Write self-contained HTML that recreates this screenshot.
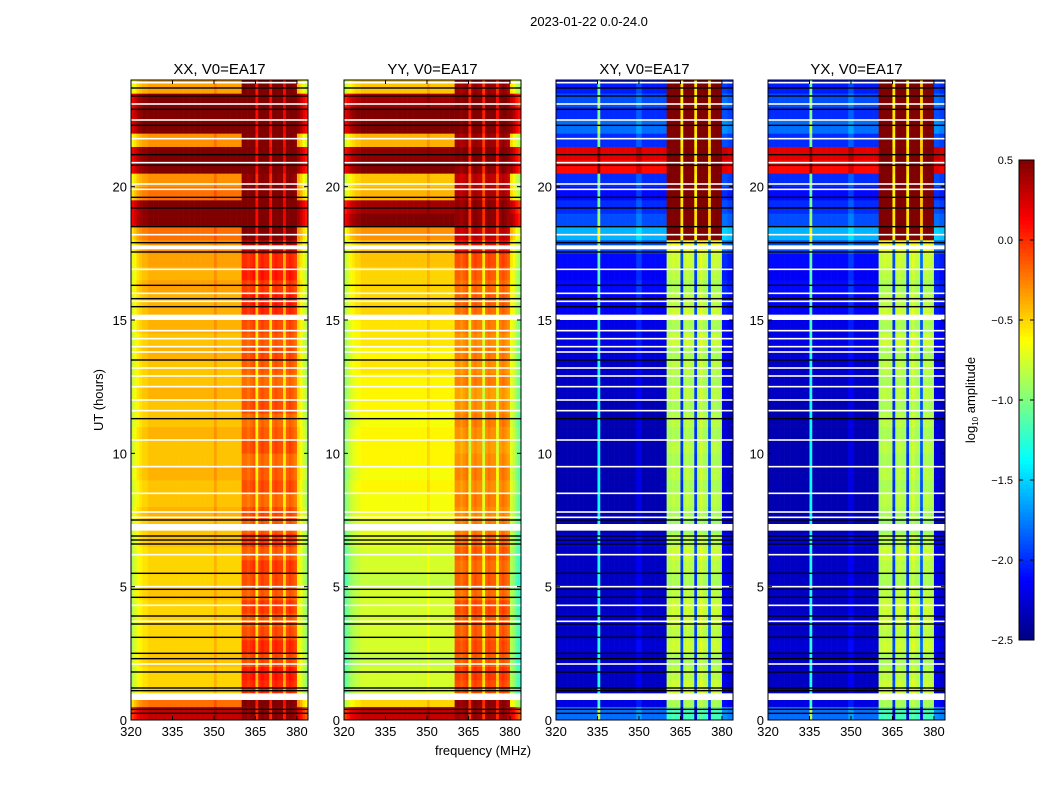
<!DOCTYPE html>
<html><head><meta charset="utf-8"><style>
body{margin:0;background:#fff;}
svg text{font-family:"Liberation Sans","DejaVu Sans",sans-serif;fill:#000;}
</style></head><body>
<svg id="fig" width="1050" height="800" viewBox="0 0 1050 800" xmlns="http://www.w3.org/2000/svg">
<text x="589" y="26" font-size="13" text-anchor="middle">2023-01-22 0.0-24.0</text>
<text x="103" y="400" font-size="13" text-anchor="middle" transform="rotate(-90 103 400)">UT (hours)</text>
<text x="483" y="755" font-size="13" text-anchor="middle">frequency (MHz)</text>
<text x="975" y="400" font-size="13" text-anchor="middle" transform="rotate(-90 975 400)">log<tspan font-size="8" dy="3">10</tspan><tspan dy="-3"> amplitude</tspan></text>
<g id="panels"></g>
<g id="cbar"></g>
</svg>
<script>
// ---- data ----
const panelTitles = ["XX, V0=EA17","YY, V0=EA17","XY, V0=EA17","YX, V0=EA17"];
const panelLeftX = [131,344,556,768];
const xTicks = [320,335,350,365,380];
const yTicks = [0,5,10,15,20];
const cbTicks = [0.5,0.0,-0.5,-1.0,-1.5,-2.0,-2.5];
// 48 half-hour rows (0h..24h): level of smooth part (320-360 MHz)
const xxLeft = [0.3,-0.2,-0.5,-0.5,-0.45,-0.5,-0.5,-0.5,-0.5,-0.45,-0.5,-0.5,-0.5,-0.45,-0.45,-0.4,-0.45,-0.45,-0.4,-0.45,-0.45,-0.4,-0.45,-0.45,-0.4,-0.45,-0.45,-0.4,-0.45,-0.4,-0.4,-0.4,-0.35,-0.4,-0.35,-0.3,-0.2,0.5,0.5,-0.2,-0.3,0.5,0.5,-0.3,0.55,0.55,0.5,-0.35];
const xxBand = [0.45,0.5,0.0,0.05,-0.1,0.0,-0.1,-0.15,-0.05,-0.15,-0.1,-0.05,-0.15,-0.05,-0.15,-0.1,-0.2,-0.1,-0.15,-0.2,-0.1,-0.15,-0.2,-0.1,-0.15,-0.2,-0.15,-0.1,-0.15,-0.1,0.0,0.05,-0.05,0.05,0.0,0.3,0.5,0.55,0.55,0.5,0.45,0.55,0.55,0.5,0.55,0.55,0.55,0.5];
const yyLeft = [0.3,-0.5,-0.75,-0.75,-0.8,-0.75,-0.75,-0.75,-0.75,-0.75,-0.8,-0.75,-0.75,-0.7,-0.7,-0.65,-0.65,-0.6,-0.65,-0.6,-0.6,-0.6,-0.65,-0.6,-0.6,-0.6,-0.55,-0.6,-0.55,-0.55,-0.5,-0.5,-0.5,-0.5,-0.45,-0.45,-0.3,0.5,0.4,-0.4,-0.45,0.5,0.45,-0.4,0.5,0.55,0.4,-0.45];
const yyBand = [0.4,0.45,-0.1,-0.05,-0.15,-0.1,-0.15,-0.15,-0.1,-0.2,-0.15,-0.2,-0.15,-0.2,-0.25,-0.3,-0.25,-0.3,-0.25,-0.3,-0.35,-0.3,-0.25,-0.3,-0.35,-0.25,-0.3,-0.25,-0.3,-0.25,-0.2,-0.15,-0.2,-0.15,-0.1,0.1,0.3,0.45,0.45,0.35,0.3,0.45,0.5,0.4,0.5,0.5,0.5,0.4];
const xyLeft = [-1.8,-2.2,-2.3,-2.3,-2.3,-2.25,-2.3,-2.25,-2.3,-2.3,-2.3,-2.3,-2.3,-2.25,-2.35,-2.35,-2.35,-2.35,-2.35,-2.35,-2.35,-2.35,-2.35,-2.35,-2.3,-2.3,-2.3,-2.25,-2.2,-2.2,-2.15,-2.15,-2.1,-2.15,-2.1,-1.9,-1.6,-1.9,-2.0,-2.1,-2.0,0.1,0.2,-2.0,-1.8,-2.0,-1.9,-2.05];
const xyBand = [-1.2,-0.9,-0.8,-0.85,-0.9,-0.8,-0.85,-0.8,-0.8,-0.85,-0.9,-0.85,-0.8,-0.85,-0.95,-0.9,-0.85,-0.9,-0.85,-0.9,-0.85,-0.9,-0.85,-0.9,-0.85,-0.9,-0.85,-0.9,-0.8,-0.9,-0.8,-0.85,-0.9,-0.85,-0.8,-0.7,0.5,0.55,0.55,0.5,0.5,0.55,0.55,0.5,0.55,0.55,0.5,0.55];
// 64 one-MHz bins (320..383): offsets added to row level
const parLeftProfile = [-0.35,-0.25,-0.15,-0.1,-0.05,-0.05,0,0,0,0,0,0,0,0,0,0,0,0,0,0,0,0,0,0,0,0,0,0,0,0,0.1,0,0,0,0,0,0,0,0,0,0,0,0,0,0,0,0,0,0,0,0,0,0,0,0,0,0,0,0,0,-0.1,-0.2,-0.35,-0.45];
const crossLeftProfile = [0,0,0,0,0,0,0,0,0,0,0,0,0,0,0,1.0,0,0,0,0,0,0,0,0,0,0,0,0,0,0.15,0.15,0,0,0,0,0,0,0,0,0,0,0,0,0,0,0,0,0,0,0,0,0,0,0,0,0,0,0,0,0,0.1,0.1,0.05,0.05];
const bandProfile = [0,0,-0.05,0,0.05,-0.45,0,0.05,0,0,-0.45,0,0.05,0,0,-0.4,0,0.05,0,-0.05];
const crossBandProfile = [0,0,0.05,0,0.05,-1.1,0,0.05,0,0,-1.1,0,0.1,0,0,-1.0,0,0.05,0,0];
// horizontal flagged gaps (white) and lines, in hours
const gapSpans = [[0.75,1.0],[7.1,7.35],[15.0,15.2],[17.65,17.8]];
const whiteLines = [23.9,23.1,22.5,21.8,20.9,20.1,19.9,18.2,16.9,16.0,15.7,14.6,14.3,14.0,13.8,13.2,12.9,12.5,12.0,11.6,10.5,9.5,8.5,7.8,7.6,6.2,5.0,4.3,3.7,2.1];
const blackLines = [23.7,23.4,22.9,22.3,21.2,20.8,19.6,19.2,18.5,17.9,17.55,16.3,15.8,15.5,13.5,11.3,7.5,6.9,6.75,6.6,5.5,4.9,4.6,3.9,3.6,3.1,2.5,2.3,1.8,1.2,1.1,0.4,0.25];

// ---- axes ----
const TOP=80, BOT=720, W=177;
const fMin=320, fMax=384, tMax=24;
const yPos = h => BOT - (h/tMax)*(BOT-TOP);
const xPos = (x0,f) => x0 + (f-fMin)/(fMax-fMin)*W;
const vMin=-2.5, vMax=0.5;
function jet(v){
  let t=(v-vMin)/(vMax-vMin); t=Math.max(0,Math.min(1,t));
  const c = x => Math.round(255*Math.max(0,Math.min(1,x)));
  const r=c(1.5-Math.abs(4*t-3)), g=c(1.5-Math.abs(4*t-2)), b=c(1.5-Math.abs(4*t-1));
  return `rgb(${r},${g},${b})`;
}
const NS="http://www.w3.org/2000/svg";
function mk(tag,attrs,parent){const e=document.createElementNS(NS,tag);for(const k in attrs)e.setAttribute(k,attrs[k]);parent.appendChild(e);return e;}

const panelsG=document.getElementById('panels');
const rowSets=[[xxLeft,xxBand,parLeftProfile,bandProfile],[yyLeft,yyBand,parLeftProfile,bandProfile],[xyLeft,xyBand,crossLeftProfile,crossBandProfile],[xyLeft,xyBand,crossLeftProfile,crossBandProfile]];
panelTitles.forEach((title,p)=>{
  const x0=panelLeftX[p];
  const g=mk('g',{},panelsG);
  
  
  const [left,band,lp,bp]=rowSets[p];
  const nRows=left.length, rowH=tMax/nRows;
  for(let r=0;r<nRows;r++){
    const y1=yPos((r+1)*rowH), y2=yPos(r*rowH);
    for(let f=0;f<64;f++){
      const freq=fMin+f;
      let v;
      if(freq>=360 && freq<380) v=band[r]+bp[freq-360];
      else v=left[r]+lp[f];
      const rect=mk('rect',{x:xPos(x0,freq).toFixed(2),y:y1.toFixed(2),width:(W/64+0.3).toFixed(2),height:(y2-y1+0.3).toFixed(2),fill:jet(v)},g);
      
      
    }
  }
  whiteLines.forEach(h=>{const l=mk('rect',{x:x0,y:yPos(h)-0.8,width:W,height:1.6,fill:'#fff'},g);
    
    });
  blackLines.forEach(h=>{const l=mk('rect',{x:x0,y:yPos(h)-0.7,width:W,height:1.4,fill:'#000'},g);
    
    });
  gapSpans.forEach(s=>{const l=mk('rect',{x:x0,y:yPos(s[1]),width:W,height:yPos(s[0])-yPos(s[1]),fill:'#fff'},g);
    
    });
  const fr=mk('rect',{x:x0,y:TOP,width:W,height:BOT-TOP,fill:'none',stroke:'#000','stroke-width':1},g);
  
  
  const t=mk('text',{x:x0+W/2,y:TOP-6,'font-size':15,'text-anchor':'middle'},g);t.textContent=title;
  
  
  xTicks.forEach(f=>{const x=xPos(x0,f);
    mk('line',{x1:x,x2:x,y1:BOT,y2:BOT-4,stroke:'#000'},g);mk('line',{x1:x,x2:x,y1:TOP,y2:TOP+4,stroke:'#000'},g);
    const tl=mk('text',{x:x,y:BOT+16,'font-size':13,'text-anchor':'middle'},g);tl.textContent=f;
    
    });
  yTicks.forEach(h=>{const y=yPos(h);
    mk('line',{x1:x0,x2:x0+4,y1:y,y2:y,stroke:'#000'},g);mk('line',{x1:x0+W,x2:x0+W-4,y1:y,y2:y,stroke:'#000'},g);
    const tl=mk('text',{x:x0-4,y:y+5,'font-size':13,'text-anchor':'end'},g);tl.textContent=h;
    
    });
});
// colorbar
const cb=document.getElementById('cbar');
const cbX=1019, cbW=15, cbT=160, cbB=640;
const cbY=v=>cbB-(v-vMin)/(vMax-vMin)*(cbB-cbT);
for(let i=0;i<120;i++){
  const v1=vMin+i*(vMax-vMin)/120, v2=vMin+(i+1)*(vMax-vMin)/120;
  const r=mk('rect',{x:cbX,y:cbY(v2),width:cbW,height:cbY(v1)-cbY(v2)+0.5,fill:jet((v1+v2)/2)},cb);
  
  
}
const cbf=mk('rect',{x:cbX,y:cbT,width:cbW,height:cbB-cbT,fill:'none',stroke:'#000'},cb);


cbTicks.forEach(v=>{const y=cbY(v);
  mk('line',{x1:cbX,x2:cbX+4,y1:y,y2:y,stroke:'#000'},cb);mk('line',{x1:cbX+cbW,x2:cbX+cbW-4,y1:y,y2:y,stroke:'#000'},cb);
  const t=mk('text',{x:cbX-6,y:y+4,'font-size':11,'text-anchor':'end'},cb);
  t.textContent=(v<0?'\u2212':'')+Math.abs(v).toFixed(1);
  
  });
</script>
</body></html>
